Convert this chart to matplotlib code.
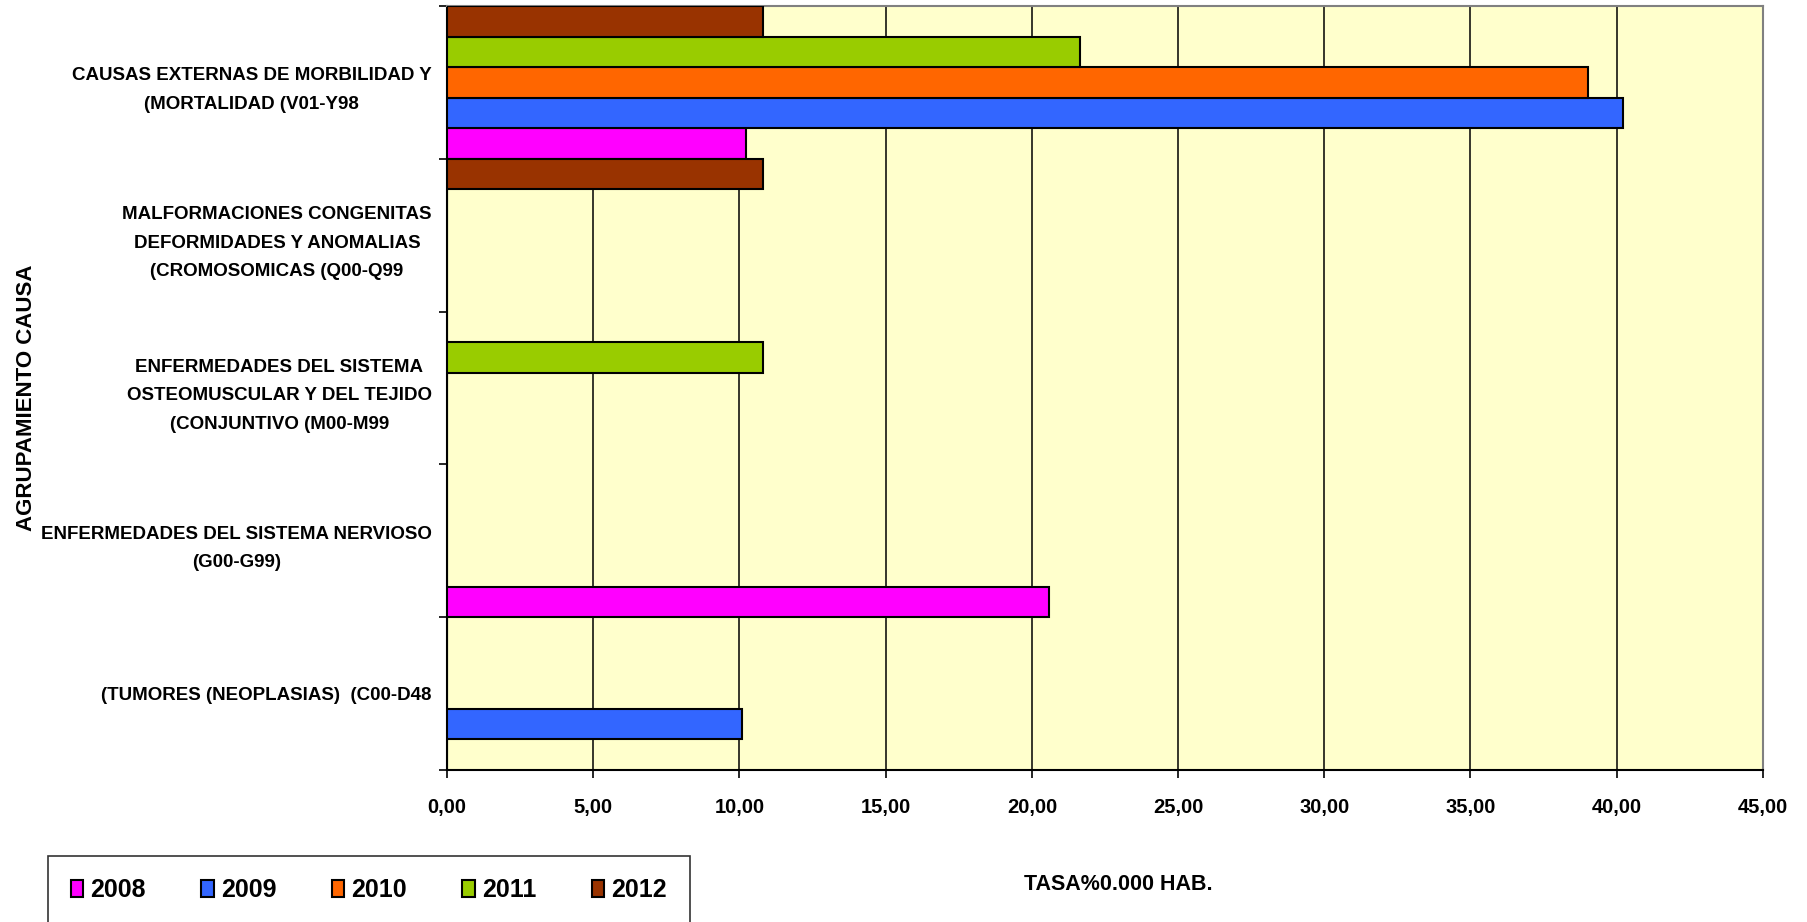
import numpy as np
import matplotlib.pyplot as plt
from matplotlib.ticker import FuncFormatter

# categorias (de abajo hacia arriba)
categorias = [
    "(TUMORES (NEOPLASIAS)  (C00-D48",
    "ENFERMEDADES DEL SISTEMA NERVIOSO\n(G00-G99)",
    "ENFERMEDADES DEL SISTEMA\nOSTEOMUSCULAR Y DEL TEJIDO\n(CONJUNTIVO (M00-M99",
    "MALFORMACIONES CONGENITAS\nDEFORMIDADES Y ANOMALIAS\n(CROMOSOMICAS (Q00-Q99",
    "CAUSAS EXTERNAS DE MORBILIDAD Y\n(MORTALIDAD (V01-Y98",
]
anios = ["2008", "2009", "2010", "2011", "2012"]
tasa_2008 = [0, 20.58, 0, 0, 10.23]
tasa_2009 = [10.07, 0, 0, 0, 40.22]
tasa_2010 = [0, 0, 0, 0, 39.02]
tasa_2011 = [0, 0, 10.81, 0, 21.63]
tasa_2012 = [0, 0, 0, 10.81, 10.81]
series = [tasa_2008, tasa_2009, tasa_2010, tasa_2011, tasa_2012]
colores = ["#FF00FF", "#3366FF", "#FF6600", "#99CC00", "#993300"]

plt.rcParams["font.family"] = ["Liberation Sans", "DejaVu Sans"]
plt.rcParams["font.weight"] = "bold"

fig = plt.figure(figsize=(18.07, 9.22), dpi=100)
ax = fig.add_axes([0.2474, 0.1649, 0.7282, 0.8286])
ax.set_facecolor("#FFFFCC")

y = np.arange(len(categorias))
h = 0.2
for i, (vals, col, an) in enumerate(zip(series, colores, anios)):
    ax.barh(y - 0.5 + h / 2 + i * h, vals, height=h, color=col,
            edgecolor="black", linewidth=1.5, label=an, zorder=3)

ax.set_xlim(0, 45)
ax.set_ylim(-0.5, len(categorias) - 0.5)
ax.set_xticks(np.arange(0, 46, 5))
ax.xaxis.set_major_formatter(FuncFormatter(lambda v, p: f"{v:.2f}".replace(".", ",")))
ax.grid(axis="x", color="black", linewidth=1.1, zorder=1)

ax.set_yticks(np.arange(-0.5, len(categorias), 1))
ax.set_yticklabels([])
ax.set_yticks(y, minor=True)
ax.set_yticklabels(categorias, minor=True, fontsize=13.5, ha="right",
                   multialignment="center", linespacing=1.9)
ax.tick_params(axis="y", which="minor", length=0, pad=11)
ax.tick_params(axis="y", which="major", length=6, width=1.2, direction="out")
ax.tick_params(axis="x", length=6, width=1.2, direction="out", labelsize=14.5, pad=14)

for s in ["top", "right"]:
    ax.spines[s].set_color("#808080")
    ax.spines[s].set_linewidth(1.5)
for s in ["left", "bottom"]:
    ax.spines[s].set_color("black")
    ax.spines[s].set_linewidth(1.5)

fig.text(0.0145, 0.569, "AGRUPAMIENTO CAUSA", rotation=90, ha="center", va="center",
         fontsize=16, fontweight="bold")
fig.text(0.619, 0.041, "TASA%0.000 HAB.", ha="center", va="center",
         fontsize=15.5, fontweight="bold")

leg = fig.legend(loc="upper left", bbox_to_anchor=(0.0266, 0.0716),
                 ncol=5, frameon=True, fancybox=False,
                 edgecolor="black", handlelength=0.5, handleheight=0.65,
                 handletextpad=0.3, columnspacing=2.2, borderpad=0.9,
                 borderaxespad=0, prop={"size": 18, "weight": "bold"})
leg.get_frame().set_linewidth(1.2)

fig.savefig("out.png", dpi=100)
